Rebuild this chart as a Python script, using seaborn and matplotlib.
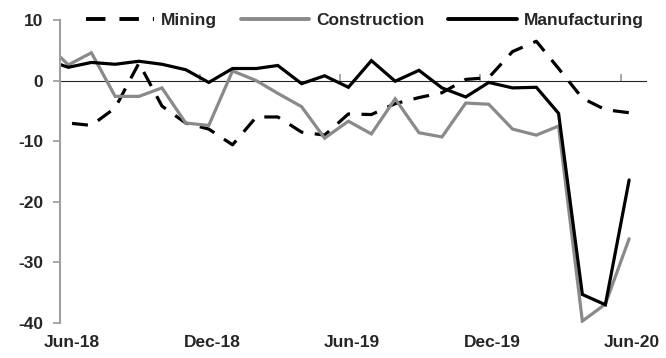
import pandas as pd
import numpy as np
import matplotlib
matplotlib.use("Agg")
import matplotlib.pyplot as plt
import matplotlib.dates as mdates
import seaborn as sns

# monthly readings, May-18 .. Jun-20 (May-18 only shows as the clipped stub at the axis)
months = pd.date_range("2018-05-01", "2020-06-01", freq="MS") + pd.Timedelta(days=11)
mining = [-6.8, -7.0, -7.4, -4.5, 2.9, -4.2, -7.0, -8.0, -10.6, -6.0, -6.0, -8.5, -9.0,
          -5.5, -5.6, -3.8, -2.8, -2.0, 0.2, 0.5, 4.8, 6.5, 2.0, -2.9, -4.8, -5.3]
construction = [6.4, 2.6, 4.6, -2.6, -2.6, -1.2, -7.0, -7.4, 1.6, 0.0, -2.1, -4.3, -9.5,
                -6.7, -8.8, -3.0, -8.6, -9.3, -3.7, -3.9, -8.0, -9.0, -7.5, -39.7, -36.9, -26.1]
manufacturing = [3.5, 2.2, 3.0, 2.7, 3.2, 2.7, 1.8, -0.3, 2.0, 2.0, 2.5, -0.5, 0.8,
                 -1.1, 3.3, -0.1, 1.7, -1.2, -2.7, -0.3, -1.2, -1.1, -5.4, -35.3, -37.0, -16.4]
series = ["Mining", "Construction", "Manufacturing"]
tick_labels = ["Jun-18", "Dec-18", "Jun-19", "Dec-19", "Jun-20"]

df = pd.DataFrame({"date": months, "Mining": mining,
                   "Construction": construction, "Manufacturing": manufacturing})
long = df.melt(id_vars="date", var_name="sector", value_name="value")

sns.set_style("white")
plt.rcParams["font.family"] = ["Liberation Sans", "DejaVu Sans"]
plt.rcParams["font.weight"] = "bold"
plt.rcParams["axes.unicode_minus"] = False

fig = plt.figure(figsize=(6.66, 3.58), dpi=100)
ax = fig.add_axes([0.090, 0.098, 0.880, 0.846])

sns.lineplot(data=long, x="date", y="value", hue="sector", style="sector",
             hue_order=series, style_order=series,
             palette={"Mining": "black", "Construction": "#8a8a8a", "Manufacturing": "black"},
             dashes={"Mining": (5, 3.6), "Construction": "", "Manufacturing": ""},
             linewidth=2.3, ax=ax)
for ln in ax.get_lines():
    ln.set_dash_capstyle("butt")
    ln.set_solid_joinstyle("miter")

axis_col = "#a0a0a0"
ax.set_ylim(-40, 10)
ax.set_yticks([-40, -30, -20, -10, 0, 10])
ax.set_xlim(pd.Timestamp("2018-06-01"), pd.Timestamp("2020-07-04"))
ax.set_xlabel("")
ax.set_ylabel("")

for s in ["top", "right", "bottom"]:
    ax.spines[s].set_visible(False)
ax.spines["left"].set_color(axis_col)
ax.spines["left"].set_linewidth(1.5)
ax.tick_params(axis="y", direction="out", length=5, width=1.3, color=axis_col,
               labelsize=12.5, pad=7, left=True)

# category labels sit mid-month along the bottom
label_pos = [pd.Timestamp(f"{y}-{m:02d}-16") for y, m in
             [(2018, 6), (2018, 12), (2019, 6), (2019, 12), (2020, 6)]]
ax.set_xticks(mdates.date2num(label_pos))
ax.set_xticklabels(tick_labels)
ax.tick_params(axis="x", length=0, labelsize=12.5, pad=9)

# zero line with tick marks acts as the horizontal axis
sec = ax.secondary_xaxis(0.8)
sec.spines["bottom"].set_color(axis_col)
sec.spines["bottom"].set_linewidth(1.5)
tick_dates = pd.date_range("2018-06-01", "2020-06-01", freq="6MS")
sec.set_xticks(mdates.date2num(tick_dates))
sec.set_xticklabels([])
sec.tick_params(axis="x", direction="out", length=5, width=1.3, color=axis_col)

leg = ax.legend(loc="center", bbox_to_anchor=(0.52, 1.0), ncol=3, frameon=False,
                handlelength=3.95, handletextpad=0.4, columnspacing=1.35,
                prop={"size": 12.5, "weight": "bold"})
for h in leg.get_lines():
    h.set_linewidth(2.8)

fig.savefig("out.png", dpi=100)
